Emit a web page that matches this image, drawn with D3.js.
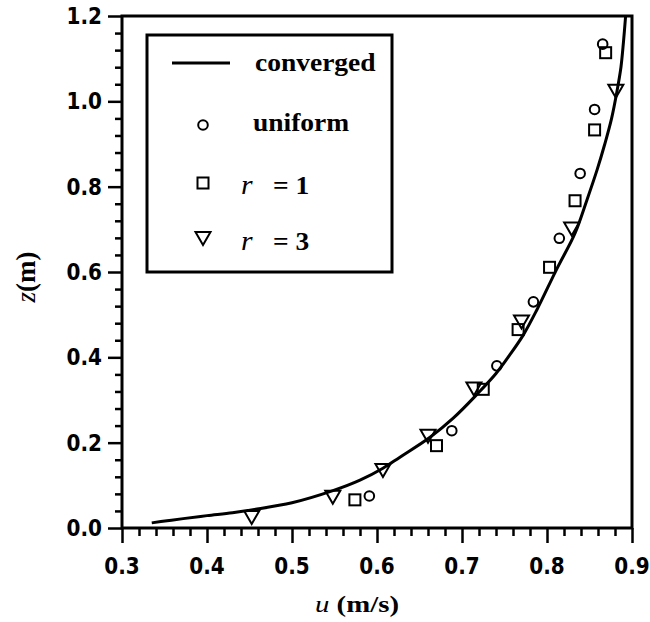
<!DOCTYPE html>
<html>
<head>
<meta charset="utf-8">
<script src="https://cdn.jsdelivr.net/npm/d3@7"></script>
<style>
  html, body { margin: 0; padding: 0; background: #fff; }
  svg { display: block; }
</style>
</head>
<body>
<script>
// ---- data ----
const xTickLabels = ["0.3", "0.4", "0.5", "0.6", "0.7", "0.8", "0.9"];
const yTickLabels = ["0.0", "0.2", "0.4", "0.6", "0.8", "1.0", "1.2"];

const convergedU = [0.335,0.353,0.372,0.40,0.43,0.454,0.50,0.549,0.58,0.607,0.627,0.662,0.69,0.717,0.74,0.756,0.772,0.788,0.811,0.833,0.847,0.859,0.868,0.876,0.882,0.887,0.890,0.8925];
const convergedZ = [0.012,0.017,0.022,0.029,0.036,0.043,0.059,0.088,0.112,0.140,0.166,0.212,0.258,0.312,0.362,0.405,0.452,0.511,0.605,0.691,0.769,0.840,0.900,0.960,1.020,1.080,1.140,1.20];

const uniformU = [0.591, 0.688, 0.741, 0.784, 0.8145, 0.839, 0.856, 0.8655];
const uniformZ = [0.075, 0.228, 0.380, 0.530, 0.679, 0.831, 0.981, 1.134];

const r1U = [0.574, 0.670, 0.725, 0.766, 0.803, 0.833, 0.856, 0.869];
const r1Z = [0.066, 0.193, 0.325, 0.465, 0.611, 0.767, 0.933, 1.114];

const r3U = [0.4526, 0.548, 0.607, 0.660, 0.714, 0.770, 0.829, 0.881];
const r3Z = [0.026, 0.073, 0.136, 0.216, 0.327, 0.484, 0.702, 1.025];

// ---- chart ----
const W = 650, H = 622;
const svg = d3.select("body").append("svg").attr("width", W).attr("height", H);

const x = d3.scaleLinear().domain([0.3, 0.9]).range([122, 632]);
const y = d3.scaleLinear().domain([0, 1.2]).range([528, 16]);

const xMajor = xTickLabels.map(Number);
const yMajor = yTickLabels.map(Number);
const xMinor = d3.range(0, 31).map(i => +(0.3 + i * 0.02).toFixed(3)).filter(v => !xMajor.some(m => Math.abs(m - v) < 1e-6));
const yMinor = d3.range(0, 31).map(i => +(i * 0.04).toFixed(3)).filter(v => !yMajor.some(m => Math.abs(m - v) < 1e-6));

function styleAxis(g) {
  g.select(".domain").remove();
  g.selectAll("line").attr("stroke", "#000").attr("stroke-width", 2.5);
}

svg.append("g").attr("transform", `translate(0,${y(0)})`)
  .call(d3.axisBottom(x).tickValues(xMinor).tickSize(8).tickFormat(""))
  .call(styleAxis);
svg.append("g").attr("transform", `translate(0,${y(0)})`)
  .call(d3.axisBottom(x).tickValues(xMajor).tickSize(15).tickFormat(""))
  .call(styleAxis);
svg.append("g").attr("transform", `translate(${x(0.3)},0)`)
  .call(d3.axisLeft(y).tickValues(yMinor).tickSize(7).tickFormat(""))
  .call(styleAxis);
svg.append("g").attr("transform", `translate(${x(0.3)},0)`)
  .call(d3.axisLeft(y).tickValues(yMajor).tickSize(14).tickFormat(""))
  .call(styleAxis);

// tick labels
const tickFont = { family: "DejaVu Sans", size: 23 };
svg.append("g").selectAll("text").data(xTickLabels).join("text")
  .attr("transform", d => `translate(${x(+d)},574) scale(0.87,1)`)
  .attr("text-anchor", "middle")
  .attr("font-family", tickFont.family).attr("font-weight", "bold")
  .attr("font-size", tickFont.size).attr("fill", "#000")
  .text(d => d);
svg.append("g").selectAll("text").data(yTickLabels).join("text")
  .attr("transform", d => `translate(102,${y(+d) + 8}) scale(0.87,1)`)
  .attr("text-anchor", "end")
  .attr("font-family", tickFont.family).attr("font-weight", "bold")
  .attr("font-size", tickFont.size).attr("fill", "#000")
  .text(d => d);

// frame
svg.append("rect")
  .attr("x", x(0.3)).attr("y", y(1.2))
  .attr("width", x(0.9) - x(0.3)).attr("height", y(0) - y(1.2))
  .attr("fill", "none").attr("stroke", "#000").attr("stroke-width", 3);

// clip
svg.append("clipPath").attr("id", "plotclip").append("rect")
  .attr("x", x(0.3)).attr("y", y(1.2))
  .attr("width", x(0.9) - x(0.3)).attr("height", y(0) - y(1.2));

const plot = svg.append("g").attr("clip-path", "url(#plotclip)");

// converged line
const lineData = convergedU.map((u, i) => [u, convergedZ[i]]);
plot.append("path")
  .datum(lineData)
  .attr("fill", "none").attr("stroke", "#000").attr("stroke-width", 3)
  .attr("stroke-linejoin", "round")
  .attr("d", d3.line().x(d => x(d[0])).y(d => y(d[1])).curve(d3.curveCatmullRom.alpha(0.5)));

// markers
const mStroke = 2;
plot.append("g").selectAll("circle").data(uniformU.map((u, i) => [u, uniformZ[i]])).join("circle")
  .attr("cx", d => x(d[0])).attr("cy", d => y(d[1])).attr("r", 4.8)
  .attr("fill", "none").attr("stroke", "#000").attr("stroke-width", mStroke);

plot.append("g").selectAll("rect").data(r1U.map((u, i) => [u, r1Z[i]])).join("rect")
  .attr("x", d => x(d[0]) - 5.5).attr("y", d => y(d[1]) - 5.5)
  .attr("width", 11).attr("height", 11)
  .attr("fill", "none").attr("stroke", "#000").attr("stroke-width", mStroke);

const tri = "M-7.5,-6L7.5,-6L0,7Z";
plot.append("g").selectAll("path").data(r3U.map((u, i) => [u, r3Z[i]])).join("path")
  .attr("transform", d => `translate(${x(d[0])},${y(d[1])})`)
  .attr("d", tri)
  .attr("fill", "none").attr("stroke", "#000").attr("stroke-width", mStroke);

// legend
const lg = svg.append("g");
lg.append("rect").attr("x", 147).attr("y", 35).attr("width", 245).attr("height", 237)
  .attr("fill", "#fff").attr("stroke", "#000").attr("stroke-width", 3);
lg.append("line").attr("x1", 172).attr("x2", 230).attr("y1", 63).attr("y2", 63)
  .attr("stroke", "#000").attr("stroke-width", 3);
lg.append("circle").attr("cx", 203).attr("cy", 125).attr("r", 4.8)
  .attr("fill", "none").attr("stroke", "#000").attr("stroke-width", mStroke);
lg.append("rect").attr("x", 203 - 5.5).attr("y", 183 - 5.5).attr("width", 11).attr("height", 11)
  .attr("fill", "none").attr("stroke", "#000").attr("stroke-width", mStroke);
lg.append("path").attr("transform", "translate(203,238)").attr("d", tri)
  .attr("fill", "none").attr("stroke", "#000").attr("stroke-width", mStroke);

const serif = "Liberation Serif";
function legText(tx, ty, str, italic, size) {
  return lg.append("text")
    .attr("transform", `translate(${tx},${ty}) scale(1.1,1)`)
    .attr("font-family", serif).attr("font-weight", italic ? "normal" : "bold")
    .attr("font-style", italic ? "italic" : "normal")
    .attr("font-size", size || 25).attr("fill", "#000").text(str);
}
legText(255, 71, "converged");
legText(253, 131, "uniform");
legText(241, 194, "r", true, 27);
legText(273, 194, "= 1");
legText(241, 250, "r", true, 27);
legText(273, 250, "= 3");

// axis titles
const xt = svg.append("text")
  .attr("transform", "translate(357,612) scale(1.2,1)")
  .attr("text-anchor", "middle")
  .attr("font-family", serif).attr("font-size", 24).attr("font-weight", "bold").attr("fill", "#000");
xt.append("tspan").attr("font-style", "italic").attr("font-weight", "normal").text("u");
xt.append("tspan").text(" (m/s)");

const yt = svg.append("text")
  .attr("transform", "translate(35,277) rotate(-90)")
  .attr("text-anchor", "middle")
  .attr("font-family", serif).attr("font-size", 27).attr("fill", "#000");
yt.append("tspan").attr("font-style", "italic").text("z");
yt.append("tspan").attr("font-weight", "bold").text("(m)");
</script>
</body>
</html>
